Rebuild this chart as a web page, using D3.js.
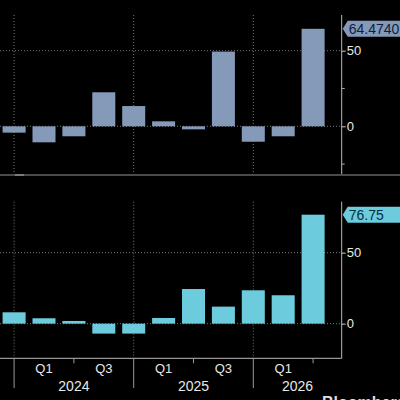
<!DOCTYPE html>
<head>
  <meta charset = "utf-8">
  <title>Quarterly bars</title>
  <script src = "https://cdn.jsdelivr.net/npm/d3@7/dist/d3.min.js"></script>
  <style>
    body { margin: 0; background: #000; }
    text { font-family: "Liberation Sans", Arial, sans-serif; }
  </style>
</head>

<body>

  <script type="text/javascript">
    var WIDTH = 400;
    var HEIGHT = 400;

    // quarter-end dates, 4Q23 .. 2Q26
    var quarters = ["4Q23","1Q24","2Q24","3Q24","4Q24","1Q25","2Q25","3Q25","4Q25","1Q26","2Q26"];
    var topValues = [-4.2, -10.6, -6.6, 22.5, 13.4, 3.3, -2.0, 49.4, -10.2, -6.6, 64.474];
    var bottomValues = [8.0, 3.8, 1.9, -7.0, -7.0, 4.0, 24.4, 12.0, 23.5, 20.0, 76.75];
    var quarterLabels = ["", "Q1", "", "Q3", "", "Q1", "", "Q3", "", "Q1", ""];
    var years = ["2024", "2025", "2026"];
    var topLast = "64.4740";
    var bottomLast = "76.75";

    var AXIS_X = 341.7;

    var svg = d3.select("body").append("svg")
                .attr("width",  WIDTH)
                .attr("height", HEIGHT)
                .style("display", "block")
                .style("background", "#000");

    var x = d3.scaleBand()
              .domain(quarters)
              .range([-0.85, 328.05])
              .paddingInner(0.23)
              .paddingOuter(0.115);

    function cx(q){ return x(q) + x.bandwidth() / 2; }

    var panels = [
      { values: topValues, color: "#8599b8", y: d3.scaleLinear().domain([-32, 73.6]).range([174.7, 15]),
        major: [0, 50], minor: [-25, 25], last: topLast, textColor: "#0d1f3c" },
      { values: bottomValues, color: "#6ccbdc", y: d3.scaleLinear().domain([-24.4, 85.9]).range([358.3, 201.7]),
        major: [0, 50], minor: [], last: bottomLast, textColor: "#06303a" }
    ];

    // year separators: 4Q23, 4Q24, 4Q25
    var yearEdges = [quarters[0], quarters[4], quarters[8]];

    panels.forEach(function(p){
      var g = svg.append("g");
      var y0 = p.y.range()[1], y1 = p.y.range()[0];

      //dotted grid
      g.selectAll(".vgrid")
        .data(yearEdges)
        .enter().append("line")
        .attr("x1", cx).attr("x2", cx)
        .attr("y1", y0).attr("y2", y1)
        .attr("stroke", "#777")
        .attr("stroke-width", 1)
        .attr("stroke-dasharray", "1,2");

      g.selectAll(".hgrid")
        .data(p.major)
        .enter().append("line")
        .attr("x1", 0).attr("x2", AXIS_X)
        .attr("y1", function(d){ return p.y(d); })
        .attr("y2", function(d){ return p.y(d); })
        .attr("stroke", "#777")
        .attr("stroke-width", 1)
        .attr("stroke-dasharray", "1,2");

      //bars
      g.selectAll("rect")
        .data(p.values)
        .enter().append("rect")
        .attr("x", function(d, i){ return x(quarters[i]); })
        .attr("width", x.bandwidth())
        .attr("y", function(d){ return p.y(Math.max(0, d)); })
        .attr("height", function(d){ return Math.abs(p.y(d) - p.y(0)); })
        .attr("fill", p.color);

      //right axis
      var axis = d3.axisRight(p.y)
                   .tickValues(p.major)
                   .tickSize(4)
                   .tickPadding(1);
      var ag = g.append("g")
                .attr("transform", "translate(" + AXIS_X + ",0)")
                .call(axis);
      ag.select(".domain").attr("stroke", "#bbb").attr("d", "M0," + y0 + "V" + y1);
      ag.selectAll(".tick line").attr("stroke", "#ccc");
      ag.selectAll(".tick text")
        .attr("fill", "#e8e8e8")
        .attr("font-size", 13)
        .attr("font-family", "Liberation Sans, Arial, sans-serif");

      g.selectAll(".minor")
        .data(p.minor)
        .enter().append("line")
        .attr("x1", AXIS_X).attr("x2", AXIS_X + 3)
        .attr("y1", function(d){ return p.y(d); })
        .attr("y2", function(d){ return p.y(d); })
        .attr("stroke", "#aaa");

      //last value tag
      var c = p.y(p.values[p.values.length - 1]);
      g.append("path")
        .attr("d", "M" + (AXIS_X + 1) + "," + c + "L" + (AXIS_X + 6) + "," + (c - 8) +
                   "H" + (WIDTH + 10) + "V" + (c + 8) + "H" + (AXIS_X + 6) + "Z")
        .attr("fill", p.color);
      g.append("text")
        .attr("x", AXIS_X + 7)
        .attr("y", c + 5)
        .attr("font-size", 14)
        .attr("fill", p.textColor)
        .text(p.last);
    });

    //separator line under top panel
    svg.append("rect")
       .attr("x", 0).attr("y", 174)
       .attr("width", WIDTH).attr("height", 2)
       .attr("fill", "#4a4a4a");
    svg.append("rect")
       .attr("x", 15).attr("y", 174)
       .attr("width", 9).attr("height", 2)
       .attr("fill", "#7a7a7a");

    //bottom x axis
    var xb = 358.3;
    svg.append("line")
       .attr("x1", 0).attr("x2", AXIS_X)
       .attr("y1", xb).attr("y2", xb)
       .attr("stroke", "#bbb");

    svg.selectAll(".ytick")
       .data(yearEdges)
       .enter().append("line")
       .attr("x1", cx).attr("x2", cx)
       .attr("y1", xb).attr("y2", 388)
       .attr("stroke", "#999");

    svg.selectAll(".qtick")
       .data([quarters[2], quarters[6], quarters[10]])
       .enter().append("line")
       .attr("x1", cx).attr("x2", cx)
       .attr("y1", xb).attr("y2", xb + 5)
       .attr("stroke", "#999");

    svg.selectAll(".qlabel")
       .data(quarters)
       .enter().append("text")
       .attr("x", cx)
       .attr("y", 373)
       .attr("text-anchor", "middle")
       .attr("font-size", 13)
       .attr("fill", "#e8e8e8")
       .text(function(d, i){ return quarterLabels[i]; });

    var yearEnds = [cx(quarters[4]), cx(quarters[8]), AXIS_X];
    svg.selectAll(".year")
       .data(years)
       .enter().append("text")
       .attr("x", function(d, i){ return (cx(yearEdges[i]) + yearEnds[i]) / 2; })
       .attr("y", 391)
       .attr("text-anchor", "middle")
       .attr("font-size", 14)
       .attr("fill", "#e8e8e8")
       .text(function(d){ return d; });

    svg.append("text")
       .attr("x", 322)
       .attr("y", 408)
       .attr("font-size", 16)
       .attr("font-weight", "bold")
       .attr("fill", "#ddd")
       .text("Bloomberg");
  </script>
</body>
